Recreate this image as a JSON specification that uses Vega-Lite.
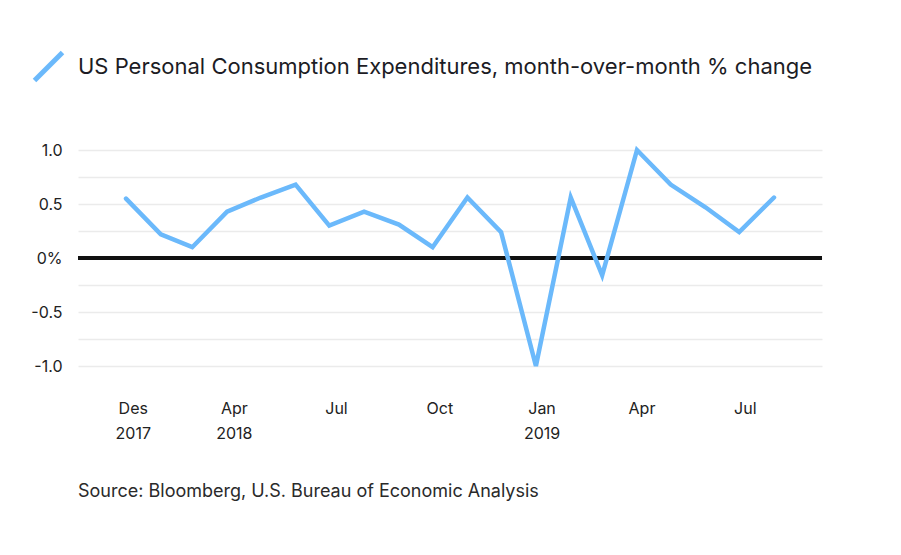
{
  "$schema": "https://vega.github.io/schema/vega-lite/v6.json",
  "autosize": {"type": "none"},
  "padding": {"left": 78, "top": 150, "right": 79, "bottom": 189},
  "width": 744,
  "height": 216,
  "background": "white",
  "config": {
    "font": "Inter",
    "view": {"stroke": null}
  },
  "title": {
    "text": "Source: Bloomberg, U.S. Bureau of Economic Analysis",
    "orient": "bottom",
    "anchor": "start",
    "frame": "group",
    "fontSize": 18,
    "fontWeight": "normal",
    "color": "#2a2a2a",
    "offset": 42
  },
  "data": {
    "values": [
      {"month": "2018-01-01", "series": "US Personal Consumption Expenditures, month-over-month % change", "change": 0.55},
      {"month": "2018-02-01", "series": "US Personal Consumption Expenditures, month-over-month % change", "change": 0.22},
      {"month": "2018-03-01", "series": "US Personal Consumption Expenditures, month-over-month % change", "change": 0.10},
      {"month": "2018-04-01", "series": "US Personal Consumption Expenditures, month-over-month % change", "change": 0.43},
      {"month": "2018-05-01", "series": "US Personal Consumption Expenditures, month-over-month % change", "change": 0.56},
      {"month": "2018-06-01", "series": "US Personal Consumption Expenditures, month-over-month % change", "change": 0.68},
      {"month": "2018-07-01", "series": "US Personal Consumption Expenditures, month-over-month % change", "change": 0.30},
      {"month": "2018-08-01", "series": "US Personal Consumption Expenditures, month-over-month % change", "change": 0.43},
      {"month": "2018-09-01", "series": "US Personal Consumption Expenditures, month-over-month % change", "change": 0.31},
      {"month": "2018-10-01", "series": "US Personal Consumption Expenditures, month-over-month % change", "change": 0.10},
      {"month": "2018-11-01", "series": "US Personal Consumption Expenditures, month-over-month % change", "change": 0.56},
      {"month": "2018-12-01", "series": "US Personal Consumption Expenditures, month-over-month % change", "change": 0.24},
      {"month": "2019-01-01", "series": "US Personal Consumption Expenditures, month-over-month % change", "change": -1.0},
      {"month": "2019-02-01", "series": "US Personal Consumption Expenditures, month-over-month % change", "change": 0.56},
      {"month": "2019-03-01", "series": "US Personal Consumption Expenditures, month-over-month % change", "change": -0.16},
      {"month": "2019-04-01", "series": "US Personal Consumption Expenditures, month-over-month % change", "change": 1.0},
      {"month": "2019-05-01", "series": "US Personal Consumption Expenditures, month-over-month % change", "change": 0.68},
      {"month": "2019-06-01", "series": "US Personal Consumption Expenditures, month-over-month % change", "change": 0.47},
      {"month": "2019-07-01", "series": "US Personal Consumption Expenditures, month-over-month % change", "change": 0.24},
      {"month": "2019-08-01", "series": "US Personal Consumption Expenditures, month-over-month % change", "change": 0.56}
    ]
  },
  "layer": [
    {
      "mark": {"type": "rule", "color": "#111111", "strokeWidth": 2.5},
      "encoding": {
        "y": {
          "datum": 0,
          "type": "quantitative",
          "scale": {"domain": [-1, 1], "nice": false, "zero": false},
          "axis": {
            "title": null,
            "domain": false,
            "ticks": false,
            "grid": true,
            "values": [-1, -0.75, -0.5, -0.25, 0, 0.25, 0.5, 0.75, 1],
            "labelExpr": "abs(datum.value * 2 - round(datum.value * 2)) > 0.01 ? '' : datum.value == 0 ? '0%' : datum.value < 0 ? '-' + format(abs(datum.value), '.1f') : format(datum.value, '.1f')",
            "labelFontSize": 16,
            "labelColor": "#222222",
            "labelPadding": 16,
            "gridColor": "#ebebeb",
            "gridWidth": 1.5,
            "gridOpacity": 1
          }
        }
      }
    },
    {
      "mark": {"type": "line", "strokeWidth": 4.5, "strokeCap": "round", "strokeJoin": "miter"},
      "encoding": {
        "x": {
          "field": "month",
          "type": "temporal",
          "scale": {"padding": 48, "nice": false},
          "axis": {
            "title": null,
            "domain": false,
            "ticks": false,
            "grid": false,
            "values": [
              {"year": 2018, "month": 1, "date": 7},
              {"year": 2018, "month": 4, "date": 7},
              {"year": 2018, "month": 7, "date": 7},
              {"year": 2018, "month": 10, "date": 7},
              {"year": 2019, "month": 1, "date": 6},
              {"year": 2019, "month": 4, "date": 5},
              {"year": 2019, "month": 7, "date": 6}
            ],
            "labelExpr": "year(datum.value) == 2018 && month(datum.value) == 0 ? ['Des', '2017'] : year(datum.value) == 2018 && month(datum.value) == 3 ? ['Apr', '2018'] : month(datum.value) == 0 ? [timeFormat(datum.value, '%b'), timeFormat(datum.value, '%Y')] : timeFormat(datum.value, '%b')",
            "labelFontSize": 16,
            "labelColor": "#222222",
            "labelPadding": 34,
            "labelLineHeight": 25,
            "labelAlign": "center",
            "labelBaseline": "top"
          }
        },
        "y": {
          "field": "change",
          "type": "quantitative",
          "scale": {"domain": [-1, 1], "nice": false, "zero": false},
          "axis": {
            "title": null,
            "domain": false,
            "ticks": false,
            "grid": true,
            "values": [-1, -0.75, -0.5, -0.25, 0, 0.25, 0.5, 0.75, 1],
            "labelExpr": "abs(datum.value * 2 - round(datum.value * 2)) > 0.01 ? '' : datum.value == 0 ? '0%' : datum.value < 0 ? '-' + format(abs(datum.value), '.1f') : format(datum.value, '.1f')",
            "labelFontSize": 16,
            "labelColor": "#222222",
            "labelPadding": 16,
            "gridColor": "#ebebeb",
            "gridWidth": 1.5,
            "gridOpacity": 1
          }
        },
        "color": {
          "field": "series",
          "type": "nominal",
          "scale": {"range": ["#6bb9fb"]},
          "legend": {
            "title": null,
            "orient": "none",
            "legendX": -46,
            "legendY": -100,
            "padding": 0,
            "symbolType": "M-1,1L1,-1",
            "symbolSize": 784,
            "symbolStrokeWidth": 5,
            "symbolFillColor": "transparent",
            "labelFontSize": 22,
            "labelColor": "#1c1c24",
            "labelOffset": 13,
            "labelLimit": 0
          }
        }
      }
    }
  ]
}
